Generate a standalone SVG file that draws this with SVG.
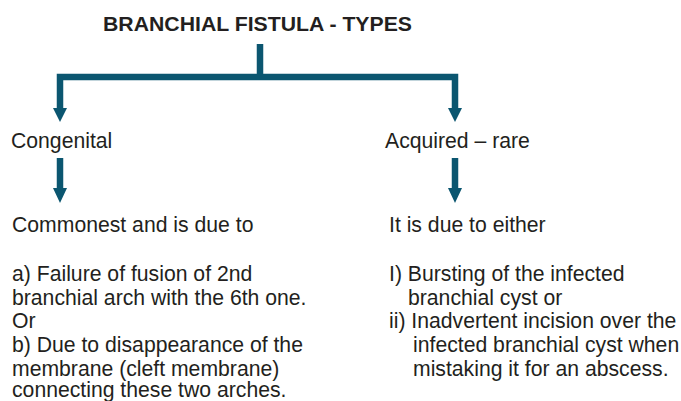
<svg xmlns="http://www.w3.org/2000/svg" width="681" height="401" viewBox="0 0 681 401">
<defs>
<style>
.t{font-family:"Liberation Sans",Arial,sans-serif;font-size:21.2px;fill:#231f20}
.h{font-family:"Liberation Sans",Arial,sans-serif;font-size:20px;font-weight:bold;fill:#231f20}
.c{stroke:#0b5670;stroke-width:6.5;fill:none}
.a{fill:#0b5670}
</style>
</defs>
<rect width="681" height="401" fill="#ffffff"/>
<g id="title"><text class="h" x="103" y="31" textLength="309" lengthAdjust="spacingAndGlyphs">BRANCHIAL FISTULA - TYPES</text></g>
<g id="connectors">
<path class="c" d="M260 44V77M60 110V77H455V110"/>
<path class="a" d="M53 108H67L60 122Z"/>
<path class="a" d="M448 108H462L455 122Z"/>
<path class="c" d="M60 158V190"/>
<path class="a" d="M53 188H67L60 203Z"/>
<path class="c" d="M455 158V190"/>
<path class="a" d="M448 188H462L455 203Z"/>
</g>
<g id="congenital"><text class="t" x="11" y="148">Congenital</text></g>
<g id="acquired"><text class="t" x="385" y="148">Acquired – rare</text></g>
<g id="congenital-causes">
<text class="t" x="12" y="232">Commonest and is due to</text>
<text class="t" x="12" y="281">a) Failure of fusion of 2nd</text>
<text class="t" x="12" y="305">branchial arch with the 6th one.</text>
<text class="t" x="12" y="328">Or</text>
<text class="t" x="12" y="352">b) Due to disappearance of the</text>
<text class="t" x="12" y="376">membrane (cleft membrane)</text>
<text class="t" x="12" y="397">connecting these two arches.</text>
</g>
<g id="acquired-causes">
<text class="t" x="389" y="232">It is due to either</text>
<text class="t" x="389" y="281">I) Bursting of the infected</text>
<text class="t" x="408" y="305">branchial cyst or</text>
<text class="t" x="389" y="328">ii) Inadvertent incision over the</text>
<text class="t" x="413" y="352">infected branchial cyst when</text>
<text class="t" x="413" y="376">mistaking it for an abscess.</text>
</g>
</svg>
